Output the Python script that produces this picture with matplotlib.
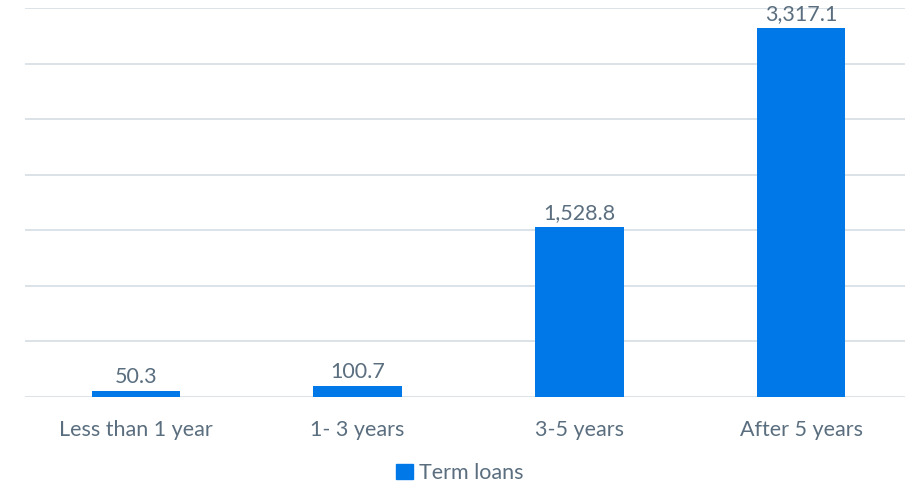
import matplotlib
matplotlib.use("Agg")
import matplotlib.pyplot as plt
from matplotlib.patches import Patch

categories = ["Less than 1 year", "1- 3 years", "3-5 years", "After 5 years"]
values = [50.3, 100.7, 1528.8, 3317.1]
value_labels = ["50.3", "100.7", "1,528.8", "3,317.1"]
series_name = "Term loans"

bar_color = "#0078E7"
text_color = "#5A6E7F"
grid_color = "#D9E1E6"

plt.rcParams['font.family'] = ['Lato', 'DejaVu Sans']

fig = plt.figure(figsize=(9.05, 4.83), dpi=100)
ax = fig.add_axes([25/905, 86/483, 887/905, 389/483])
x = list(range(len(categories)))
bars = ax.bar(x, values, width=0.4, color=bar_color, zorder=3)
ax.set_xlim(-0.5, 3.5)
ax.set_ylim(0, 3500)
ax.set_yticks(range(0, 3501, 500))
ax.yaxis.grid(True, color=grid_color, linewidth=1.3, zorder=0)
ax.tick_params(axis='y', left=False, labelleft=False)
ax.tick_params(axis='x', bottom=False, labelsize=15.5, colors=text_color, pad=13)
ax.set_xticks(x)
ax.set_xticklabels(categories)
for s in ax.spines.values():
    s.set_visible(False)
for b, lab in zip(bars, value_labels):
    ax.annotate(lab, (b.get_x() + b.get_width()/2, b.get_height()), xytext=(0, 3),
                textcoords="offset points", ha="center", va="bottom",
                fontsize=15.5, color=text_color)
fig.legend(handles=[Patch(color=bar_color, label=series_name)], loc="center",
           bbox_to_anchor=(460/905, 1 - 473/483), frameon=False, fontsize=15.5,
           labelcolor=text_color, handlelength=0.75, handleheight=0.75, handletextpad=0.3)
fig.savefig("out.png", dpi=100)
